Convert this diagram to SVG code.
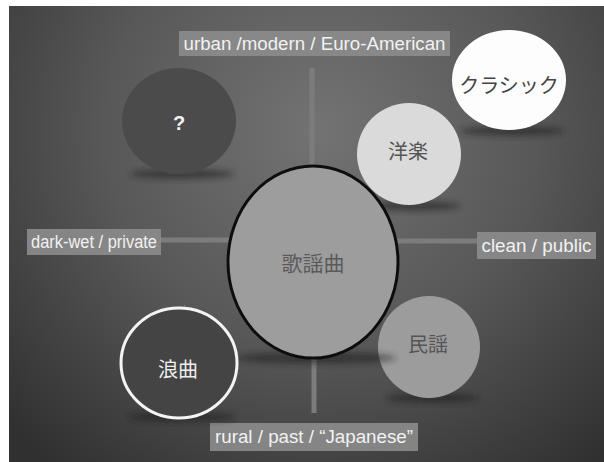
<svg xmlns="http://www.w3.org/2000/svg" width="604" height="462" viewBox="0 0 604 462">
<defs>
<radialGradient id="bg" cx="320" cy="130" r="430" gradientUnits="userSpaceOnUse">
<stop offset="0" stop-color="#737373"/>
<stop offset="0.5" stop-color="#585858"/>
<stop offset="1" stop-color="#303030"/>
</radialGradient>
<filter id="blur" x="-50%" y="-50%" width="200%" height="200%"><feGaussianBlur stdDeviation="3"/></filter>
<filter id="rough" x="-10%" y="-10%" width="120%" height="120%">
<feTurbulence type="fractalNoise" baseFrequency="0.9" numOctaves="1" seed="3"/>
<feDisplacementMap in="SourceGraphic" scale="1.6" xChannelSelector="R" yChannelSelector="G"/>
</filter>
<style>
.axis{stroke:#7c7c7c;stroke-width:5;fill:none}
.lblbox{fill:#8c8c8c;fill-opacity:0.9}
.lbl{font-family:"Liberation Sans",Arial,sans-serif;font-size:17.5px;fill:#f2f2f2;text-anchor:middle;dominant-baseline:central}
.jp{font-family:"Noto Sans CJK JP","Noto Sans",sans-serif;font-size:20px;text-anchor:middle;dominant-baseline:central}
.shadow{fill:#1a1a1a;opacity:0.55;filter:url(#blur)}
</style>
</defs>
<rect x="0" y="0" width="604" height="462" fill="#fff"/>
<rect x="9" y="6" width="595" height="456" fill="url(#bg)"/>

<g id="connectors">
<line class="axis" x1="312" y1="68" x2="312" y2="170"/>
<line class="axis" x1="314" y1="355" x2="314" y2="413"/>
<line class="axis" x1="160" y1="240" x2="232" y2="240"/>
<line class="axis" x1="396" y1="241" x2="478" y2="241"/>
</g>

<g id="label-top">
<rect class="lblbox" x="179" y="31" width="271" height="25"/>
<text class="lbl" x="314.5" y="43.5" textLength="262" lengthAdjust="spacingAndGlyphs">urban /modern / Euro-American</text>
</g>
<g id="label-left">
<rect class="lblbox" x="27" y="229" width="134" height="26"/>
<text class="lbl" x="94" y="242" textLength="126" lengthAdjust="spacingAndGlyphs">dark-wet / private</text>
</g>
<g id="label-right">
<rect class="lblbox" x="477" y="232" width="119" height="27"/>
<text class="lbl" x="536.5" y="245.5" textLength="110" lengthAdjust="spacingAndGlyphs">clean / public</text>
</g>
<g id="label-bottom">
<rect class="lblbox" x="210" y="423" width="208" height="28"/>
<text class="lbl" x="314" y="437" textLength="198" lengthAdjust="spacingAndGlyphs">rural / past / “Japanese”</text>
</g>

<g id="node-question">
<ellipse class="shadow" cx="182" cy="174" rx="52" ry="5"/>
<ellipse cx="179" cy="121" rx="57" ry="53" fill="#4b4b4b"/>
<text class="lbl" x="179" y="123" style="font-size:20px;font-weight:bold">?</text>
</g>
<g id="node-classic">
<ellipse class="shadow" cx="512" cy="131" rx="52" ry="5"/>
<ellipse cx="509" cy="80" rx="57" ry="50" fill="#fdfdfd"/>
<text class="jp" x="509" y="84" fill="#444">クラシック</text>
</g>
<g id="node-yogaku">
<ellipse class="shadow" cx="412" cy="206" rx="48" ry="5"/>
<ellipse cx="409" cy="154" rx="52" ry="51" fill="#dadada"/>
<text class="jp" x="408" y="150" fill="#555">洋楽</text>
</g>
<g id="node-minyo">
<ellipse class="shadow" cx="432" cy="398" rx="46" ry="5"/>
<ellipse cx="429" cy="347" rx="51" ry="51" fill="#9c9c9c"/>
<text class="jp" x="428" y="343" fill="#555">民謡</text>
</g>
<g id="node-kayokyoku">
<ellipse class="shadow" cx="316" cy="358" rx="80" ry="6"/>
<ellipse cx="313" cy="262" rx="85" ry="96" fill="#9d9d9d"/>
<ellipse cx="313" cy="262" rx="85" ry="96" fill="none" stroke="#111" stroke-width="3" filter="url(#rough)"/>
<text class="jp" x="313" y="262" fill="#5a5a5a" style="font-size:21px">歌謡曲</text>
</g>
<g id="node-rokyoku">
<ellipse class="shadow" cx="182" cy="417" rx="54" ry="5"/>
<ellipse cx="179" cy="363" rx="58" ry="55" fill="#444"/>
<ellipse cx="179" cy="363" rx="58" ry="55" fill="none" stroke="#f4f4f4" stroke-width="3" filter="url(#rough)"/>
<text class="jp" x="178" y="368" fill="#eee">浪曲</text>
</g>
</svg>
